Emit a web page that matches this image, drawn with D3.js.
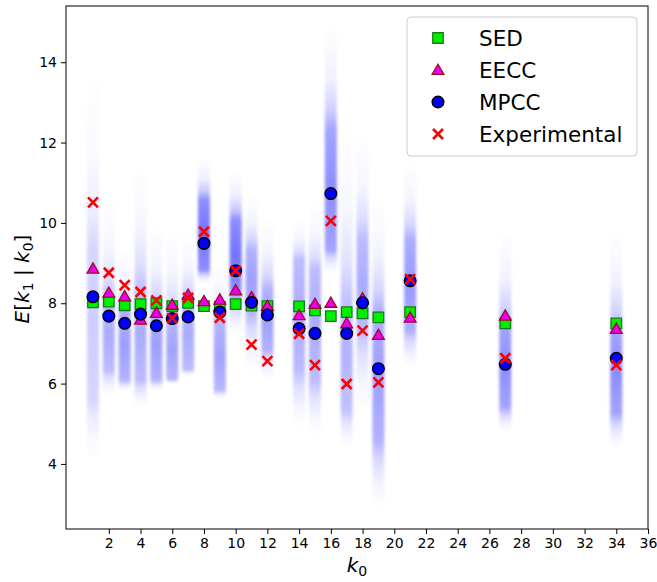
<!DOCTYPE html>
<html><head><meta charset="utf-8">
<script src="https://cdn.jsdelivr.net/npm/d3@7"></script>
<style>body{margin:0;background:#fff;} svg{display:block;font-family:"DejaVu Sans",sans-serif;}</style>
</head><body>
<svg id="chart" width="657" height="582"></svg>
<script>
const kValues = [1,2,3,4,5,6,7,8,9,10,11,12,14,15,16,17,18,19,21,27,34];
const sed = [8.02,8.04,7.95,7.98,8.00,7.93,8.01,7.93,7.91,7.98,7.94,7.93,7.92,7.82,7.68,7.78,7.75,7.65,7.78,7.50,7.50];
const eecc = [8.86,8.26,8.17,7.59,7.76,7.96,8.21,8.05,8.09,8.32,8.15,7.93,7.70,7.98,8.01,7.50,8.12,7.21,7.64,7.69,7.36];
const mpcc = [8.16,7.68,7.50,7.73,7.44,7.62,7.66,9.49,7.78,8.81,8.02,7.71,7.37,7.25,10.73,7.25,8.01,6.37,8.56,6.48,6.63];
const experimental = [10.51,8.76,8.45,8.28,8.07,7.63,8.13,9.78,7.64,8.81,6.97,6.56,7.24,6.46,10.05,5.99,7.32,6.03,8.60,6.63,6.46];
// simulated distribution clouds (extent and dense core per k0)
const cloudTop = [13.8,10.6,9.3,11.4,9.9,9.8,9.7,11.6,9.0,11.3,10.7,10.1,10.1,10.5,14.9,12.5,12.2,10.6,11.5,9.75,9.75];
const cloudCoreTop = [9.33,8.08,7.83,8.33,7.83,7.58,8.08,10.57,7.58,10.07,9.33,8.33,9.08,8.83,12.31,8.08,9.58,7.83,9.58,7.41,7.26];
const cloudCoreBottom = [5.59,6.34,6.09,6.09,6.09,6.09,6.34,8.83,5.84,8.33,7.83,6.84,6.34,6.09,9.33,5.34,7.34,4.60,7.34,5.42,5.27];
const cloudBottom = [4.1,5.7,5.8,5.4,5.8,6.0,6.2,8.5,5.6,7.2,6.3,6.1,4.9,4.7,8.75,4.4,5.3,2.9,6.4,4.8,4.4];
const cloudDensity = [0.2,0.33,0.38,0.33,0.38,0.36,0.33,0.55,0.36,0.55,0.38,0.38,0.33,0.33,0.45,0.3,0.33,0.38,0.4,0.45,0.45];
const xTicks = [2,4,6,8,10,12,14,16,18,20,22,24,26,28,30,32,34,36];
const yTicks = [4,6,8,10,12,14];
const seriesNames = ["SED","EECC","MPCC","Experimental"];

const svg = d3.select("#chart");
const L = 66, R = 648, T = 6, B = 529;
const x = d3.scaleLinear().domain([-0.7, 36]).range([L, R]);
const y = d3.scaleLinear().domain([2.38, 15.40]).range([B, T]);

const defs = svg.append("defs");
defs.append("clipPath").attr("id","clip").append("rect")
  .attr("x",L).attr("y",T).attr("width",R-L).attr("height",B-T);
const blur = defs.append("filter").attr("id","soft").attr("x","-50%").attr("y","-10%").attr("width","200%").attr("height","120%");
blur.append("feGaussianBlur").attr("stdDeviation","1.8 1.5");

const g = svg.append("g").attr("clip-path","url(#clip)").append("g").attr("filter","url(#soft)");

// clouds
kValues.forEach((k,i)=>{
  const t = cloudTop[i], b = cloudBottom[i];
  const span = t - b;
  const off = v => (t - v)/span;
  const p = cloudDensity[i];
  const ct = off(cloudCoreTop[i]), cb = off(cloudCoreBottom[i]);
  const grad = defs.append("linearGradient").attr("id","cg"+i)
    .attr("x1",0).attr("y1",0).attr("x2",0).attr("y2",1);
  const stops = [
    [0, 0],
    [ct*0.5, p*0.12],
    [ct*0.8, p*0.4],
    [ct, p*0.8],
    [(ct+cb)/2, p],
    [cb, p*0.8],
    [cb+(1-cb)*0.3, p*0.38],
    [cb+(1-cb)*0.65, p*0.12],
    [1, 0]
  ];
  stops.forEach(s=>grad.append("stop").attr("offset",s[0]).attr("stop-color","#0000ff").attr("stop-opacity",s[1]));
  g.append("rect")
    .attr("x", x(k)-6).attr("width", 12)
    .attr("y", y(t)).attr("height", y(b)-y(t))
    .attr("rx", 6).attr("fill","url(#cg"+i+")");
});

// axes frame
svg.append("rect").attr("x",L).attr("y",T).attr("width",R-L).attr("height",B-T)
  .attr("fill","none").attr("stroke","#000").attr("stroke-width",1);

const xAxis = svg.append("g").attr("transform",`translate(0,${B})`)
  .call(d3.axisBottom(x).tickValues(xTicks).tickSize(5).tickPadding(4).tickFormat(d3.format("d")));
const yAxis = svg.append("g").attr("transform",`translate(${L},0)`)
  .call(d3.axisLeft(y).tickValues(yTicks).tickSize(5).tickPadding(4).tickFormat(d3.format("d")));
[xAxis,yAxis].forEach(a=>{
  a.select(".domain").remove();
  a.selectAll("text").attr("font-size",14).attr("fill","#000").attr("font-family","DejaVu Sans");
  a.selectAll("line").attr("stroke","#000");
});

// marker drawers
const sym = {
  SED: d3.symbol().type(d3.symbolSquare).size(110),
  EECC: d3.symbol().type(d3.symbolTriangle).size(60),
  MPCC: d3.symbol().type(d3.symbolCircle).size(105)
};
function drawMarker(sel, name){
  if(name==="SED") sel.append("path").attr("d",sym.SED()).attr("fill","#00ee00").attr("stroke","#1a7a1a").attr("stroke-width",1.3);
  else if(name==="EECC") sel.append("path").attr("d",sym.EECC()).attr("transform","translate(0,1)").attr("fill","#ee00ee").attr("stroke","#9b0a2a").attr("stroke-width",1.3);
  else if(name==="MPCC") sel.append("path").attr("d",sym.MPCC()).attr("fill","#0000ff").attr("stroke","#000").attr("stroke-width",1.5);
  else sel.append("path").attr("d","M-5,-5L5,5M-5,5L5,-5").attr("stroke","#ff0000").attr("stroke-width",2.6).attr("fill","none");
}
const seriesData = [sed, eecc, mpcc, experimental];
seriesNames.forEach((name,si)=>{
  const sg = svg.append("g");
  kValues.forEach((k,i)=>{
    const m = sg.append("g").attr("transform",`translate(${x(k)},${y(seriesData[si][i])})`);
    drawMarker(m,name);
  });
});

// legend
const lg = svg.append("g");
lg.append("rect").attr("x",407).attr("y",17).attr("width",230).attr("height",139).attr("rx",4)
  .attr("fill","#fff").attr("fill-opacity",0.8).attr("stroke","#cccccc").attr("stroke-width",1);
seriesNames.forEach((name,i)=>{
  const yy = 38 + i*32;
  const m = lg.append("g").attr("transform",`translate(438,${yy})`);
  drawMarker(m,name);
  lg.append("text").attr("x",479).attr("y",yy).attr("dy","0.36em").attr("font-size",21.5).attr("fill","#000").text(name);
});

// axis labels
const xl = svg.append("text").attr("x",357).attr("y",572).attr("text-anchor","middle").attr("font-size",20).attr("fill","#000");
xl.append("tspan").attr("font-style","italic").text("k");
xl.append("tspan").attr("font-size",14).attr("dy",4).text("0");

const yl = svg.append("text").attr("transform","translate(29,279) rotate(-90)").attr("text-anchor","middle").attr("font-size",20).attr("fill","#000");
yl.append("tspan").attr("font-style","italic").text("E");
yl.append("tspan").text("[");
yl.append("tspan").attr("font-style","italic").text("k");
yl.append("tspan").attr("font-size",14).attr("dy",4).text("1");
yl.append("tspan").attr("dy",-4).text(" | ");
yl.append("tspan").attr("font-style","italic").text("k");
yl.append("tspan").attr("font-size",14).attr("dy",4).text("0");
yl.append("tspan").attr("dy",-4).text("]");
</script>
</body></html>
